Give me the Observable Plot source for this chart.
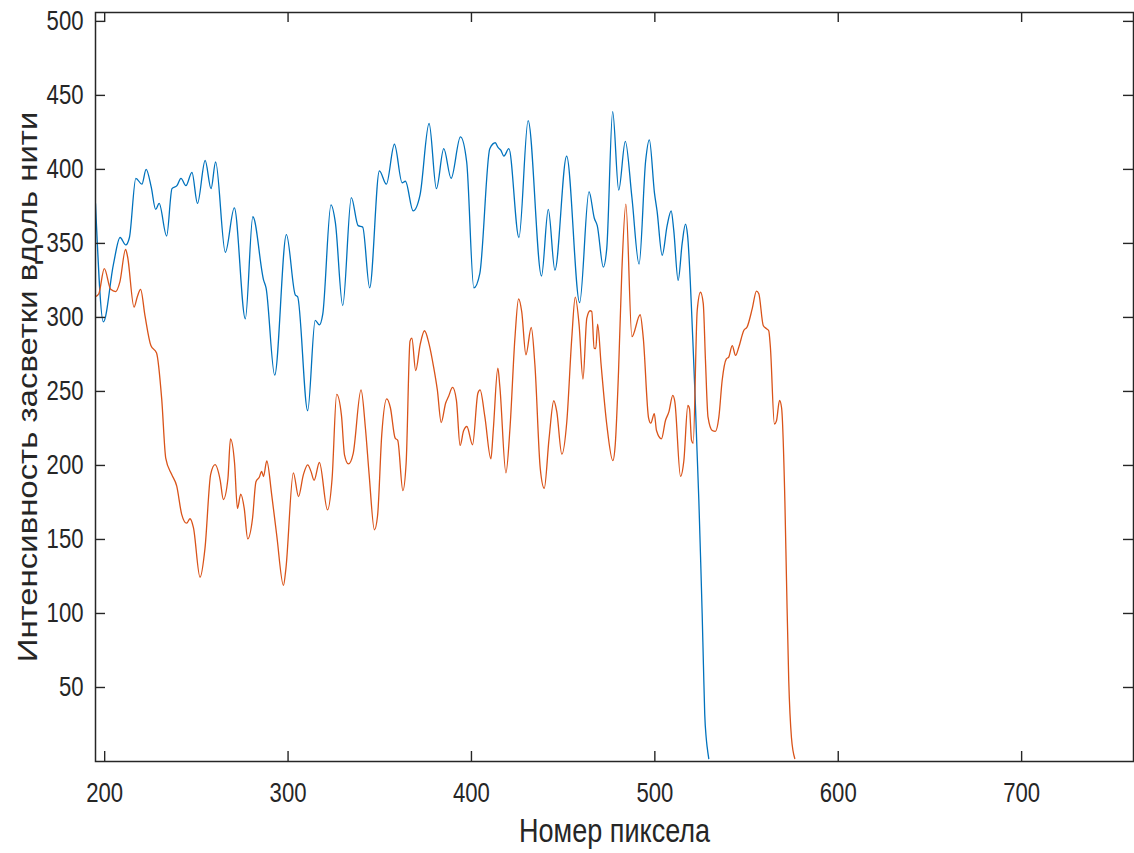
<!DOCTYPE html>
<html><head><meta charset="utf-8">
<script src="https://cdn.jsdelivr.net/npm/d3@7"></script>
<script src="https://cdn.jsdelivr.net/npm/@observablehq/plot@0.6"></script>
<style>body{margin:0;background:#fff}</style>
</head><body><div id="chart"></div>
<script>
const xTicks = [200, 300, 400, 500, 600, 700];
const yTicks = [50, 100, 150, 200, 250, 300, 350, 400, 450, 500];
const xDomain = [195, 761];
const yDomain = [0, 506];
const xLabel = "Номер пиксела";
const yLabel = "Интенсивность засветки вдоль нити";

const blueX = [195,199.3,204.8,208.4,211.5,213.5,217,220.3,222.6,225.4,227.8,229.7,233.8,236.7,239.4,241.6,244.3,247.6,250.6,254.8,258,260.5,265.8,270.7,276.7,280.8,286.7,288,292.7,299.1,304,305.2,310.7,314.8,317.1,318.9,323.4,325.8,329.8,334.5,338.2,340.7,344.5,349.8,353.6,358,362.2,364,368.2,372,376.9,380.9,384.9,388.9,394,397.4,401.3,404.6,410,413,414.4,416,417.7,420.4,425.9,430.9,438.2,441.9,445.5,451.9,459,464.1,467,468.6,471.9,473.8,477,480.3,483.9,487.5,491.4,495,497,499.8,501.2,504,506.7,508.9,510.3,512.7,514.9,516.7,517.8,520.7,522,523,524,525,525.8,526.5,527.2,528,528.5,529.4];
const blueY = [377,297,336,354,349,354,394,390,400,388,373,377,355,387,389,394,389,398,377,406,387,405,344,374,299,368,325,320,261,356,315,314,237,298,295,302,376,364,308,381,362,361,320,399,390,417,391,392,372,383,431,387,414,394,422,405,320,330,414,418,415,413,409,414,354,433,328,373,332,409,310,385,367,362,334,347,439,386,419,381,336,406,420,384,372,342,362,372,359,325,350,363,356,285,245,210,176,135,100,65,32,16,10,2];

const orangeX = [195,196.8,199.8,203.3,206,208.3,211.4,212.5,216,217.8,219.6,222,225.2,228.3,231.1,233.3,236.5,239.3,242,244.7,246.5,248.4,252,254.7,257.8,260.2,263,264.7,267.2,268.6,270.8,272.4,274.2,276.1,278,280.6,282.5,284.3,285.6,286.6,288.4,291.1,293.8,297.5,298.8,302.9,305.7,308.3,310.7,312.5,314.2,317.1,321.5,324,326.5,329.1,330.8,332.9,335.5,339.8,342.2,344.2,347.1,348.8,351.1,353.8,355.8,358.4,359.8,362.6,364.4,366.5,367.5,369.6,372,374.4,376.9,379.3,381.4,383.5,385.9,387.5,389.7,391.8,393.8,395.7,397.5,400.6,403.5,404.7,407.3,410.6,411.9,414.4,415.5,418.8,421,423.7,425.7,427.4,429.7,432.6,434.6,437.5,439.7,442.3,444.9,446.5,449.3,452,454.7,456.6,458.7,460.8,462.9,464.7,465.6,466.9,467.8,468.8,470.7,473.8,477.1,478.4,480.2,482,484.2,487.5,492,493.7,496.6,497.8,499.7,500.9,503.6,505.8,507.6,509.8,510.9,514,515.8,518,518.9,520,520.9,523.1,524.9,526.4,527.6,529,531.3,533,534.9,536.7,539,540.3,542.2,544,545.8,548.5,550.3,553.1,555.4,556.7,559.1,560.9,562.1,563,565.2,566.3,568,569.1,570.9,571.8,573,574.5,576.3];
const orangeY = [314,316,333,319,317.5,324,346,341,307,314,319,301,281,276,245,205,194,186,167,161,164,158,124.5,144,194,200.5,190,177,191,218,202,171,180.6,171,150.4,164,189,192,196,192.5,203,180,153,119,130,195,179,193.5,200.4,196,190,202,170,191,248,234,207,201,208,251,225,194,156.5,166,221,245,239,218.4,217,183,202,284,286,264,281.5,291,282,267,251,229,242,246.6,252.7,244,213.5,223.4,226.3,214,248.8,251,233,204.5,224,265.7,253,195,225,286,312.6,304,274.8,293.2,268,198.2,184.6,218,243.7,236.5,207.6,229.7,286,313.7,295,258.3,299.5,304.5,304,279.3,279,295.5,268,227.5,203.2,214,263.5,331,376.5,287,301.8,286,232,228.6,235,223.6,218,230.4,236,247.3,243,192.6,203,240.5,238.3,217,215,304.7,317,309.3,271,232.6,223.6,223,232.6,257.4,272,273.2,281,274.3,280,291.2,293.5,305.9,317.8,316,294.6,292.4,291,280,228,230,244,239,176,122,55,16,2];

const blue = blueX.map((x, i) => ({x, y: blueY[i]}));
const orange = orangeX.map((x, i) => ({x, y: orangeY[i]}));

const W = 1134, H = 853, mL = 95, mT = 12, mR = 1, mB = 92;
const frameW = W - mL - mR, frameH = H - mT - mB;
const ink = "#262626";
const tickLen = 10;

const plot = Plot.plot({
  width: W, height: H,
  marginLeft: mL, marginTop: mT, marginRight: mR, marginBottom: mB,
  style: {fontFamily: "'Liberation Sans', Arial, sans-serif", color: ink, background: "#fff", overflow: "visible"},
  x: {domain: xDomain},
  y: {domain: yDomain},
  marks: [
    Plot.line(blue, {x: "x", y: "y", stroke: "#0072BD", strokeWidth: 1.3, curve: "monotone-x", clip: true}),
    Plot.line(orange, {x: "x", y: "y", stroke: "#D95319", strokeWidth: 1.3, curve: "monotone-x", clip: true}),
    Plot.ruleX(xTicks, {x: d => d, insetTop: frameH - tickLen, stroke: ink, strokeWidth: 1.4}),
    Plot.ruleX(xTicks, {x: d => d, insetBottom: frameH - tickLen, stroke: ink, strokeWidth: 1.4}),
    Plot.ruleY(yTicks, {y: d => d, insetRight: frameW - tickLen, stroke: ink, strokeWidth: 1.4}),
    Plot.ruleY(yTicks, {y: d => d, insetLeft: frameW - tickLen, stroke: ink, strokeWidth: 1.4}),
    Plot.frame({stroke: ink, strokeWidth: 1.5}),
    Plot.axisX({ticks: xTicks, tickSize: 0, tickPadding: 21, fontSize: 27, label: null, tickFormat: d => String(d)}),
    Plot.axisY({ticks: yTicks, tickSize: 0, tickPadding: 12, fontSize: 27, label: null, tickFormat: d => String(d)}),
    Plot.text([xLabel], {text: d => d, frameAnchor: "bottom", textAnchor: "middle", dy: 80, fontSize: 33, fill: ink}),
    Plot.text([yLabel], {text: d => d, frameAnchor: "left", textAnchor: "middle", dx: -67, rotate: -90, fontSize: 27, fill: ink})
  ]
});
document.getElementById("chart").append(plot);

// emulate the reference's non-uniform aspect by scaling each text about an anchor point
const NS = "http://www.w3.org/2000/svg";
function squash(t, sx, sy, anchor) {
  const r = t.getBoundingClientRect();
  const px = anchor === "end" ? r.right : (r.left + r.right) / 2;
  const py = (r.top + r.bottom) / 2;
  const parent = t.parentNode;
  const p = plot.createSVGPoint();
  p.x = px; p.y = py;
  const q = p.matrixTransform(parent.getScreenCTM().inverse());
  const g = document.createElementNS(NS, "g");
  g.setAttribute("transform", `translate(${q.x},${q.y}) scale(${sx},${sy}) translate(${-q.x},${-q.y})`);
  parent.insertBefore(g, t);
  g.appendChild(t);
}
Array.from(plot.querySelectorAll("text")).forEach(t => {
  const s = t.textContent;
  if (s === yLabel) squash(t, 1, 1.22, "middle");
  else if (s === xLabel) squash(t, 0.82, 1, "middle");
  else {
    const g = t.closest("g[aria-label]");
    const lab = g ? g.getAttribute("aria-label") : "";
    if (/y-axis/.test(lab)) squash(t, 0.82, 1, "end");
    else squash(t, 0.82, 1, "middle");
  }
});
</script>
</body></html>
